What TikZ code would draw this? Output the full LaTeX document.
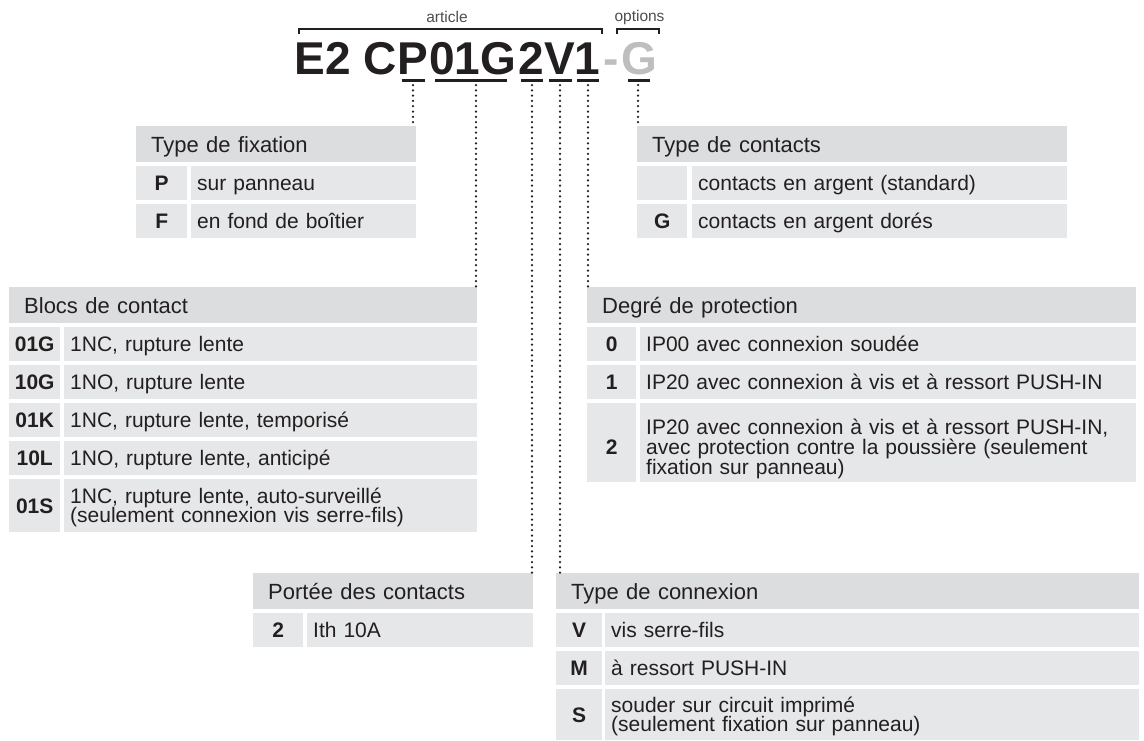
\documentclass[tikz,border=0pt]{standalone}
\usepackage{fontspec}
\setmainfont{Liberation Sans}
\definecolor{hdrc}{HTML}{DCDDDE}
\definecolor{rowc}{HTML}{E6E7E8}
\definecolor{txt}{HTML}{231F20}
\definecolor{optc}{HTML}{BCBEC0}
\definecolor{lblc}{HTML}{4D4D4F}
\newcommand\mybody{\fontsize{21}{19.5}\selectfont\lineskiplimit=-50pt\lineskip=0pt}
\newcommand\mybodyb{\fontsize{21}{20}\selectfont\lineskiplimit=-50pt\lineskip=0pt}
\newcommand\myhdr{\fontsize{22}{22}\selectfont}
\newcommand\myttl{\fontsize{46}{46}\selectfont\bfseries}
\newcommand\mylbl{\fontsize{15.5}{16}\selectfont}
\begin{document}
\begin{tikzpicture}[x=1pt,y=-1pt,
  hdr/.style={fill=hdrc, text=txt, font=\myhdr, anchor=north west, inner xsep=15pt, inner ysep=0pt,
    minimum height=36pt, align=left, text height=15.8pt, text depth=0pt},
  codec/.style={fill=rowc, text=txt, font=\mybody\bfseries, anchor=north west, inner sep=0pt,
    align=center, text height=15pt, text depth=0pt},
  descc/.style={fill=rowc, text=txt, font=\mybody, anchor=north west, inner xsep=6pt, inner ysep=0pt,
    align=left, text height=15pt, text depth=0pt},
  ttl/.style={font=\myttl, text=txt, anchor=base, inner sep=0pt},
  lbl/.style={font=\mylbl, text=lblc, inner sep=0pt},
  brk/.style={draw=txt, line width=1.2pt},
  usc/.style={draw=txt, line width=3pt},
  dotc/.style={draw=txt, line width=2.5pt, line cap=round, dash pattern=on 0pt off 5.3pt}
]
\useasboundingbox (0,0) rectangle (1144,740);

% ---- title ----
\node[ttl] (tP) at (413,74.5) {P};
\node[ttl, anchor=base east] (tE2C) at (tP.base west) {E2 C};
\node[ttl] (t01G) at (472.5,74.5) {01G};
\node[ttl] (t2) at (531,74.5) {2};
\node[ttl] (tV) at (559.5,74.5) {V};
\node[ttl] (t1) at (587,74.5) {1};
\node[ttl, text=optc] (tdash) at (611,74.5) {-};
\node[ttl, text=optc] (tG) at (639.5,74.5) {G};

% ---- brackets and labels ----
\node[lbl] (lart) at (447,17) {article};
\node[lbl] (lopt) at (639.5,17) {options};
\draw[brk] (299,34) -- (299,29) -- (602,29) -- (602,34);
\draw[brk] (617,34) -- (617,29) -- (659,29) -- (659,34);

% ---- underscores ----
\draw[usc] ([xshift=-11.5pt,yshift=-5.5pt]tP.base) -- ++(23,0);
\draw[usc] ([xshift=-37.5pt,yshift=-5.5pt]t01G.base) -- ++(72,0);
\draw[usc] ([xshift=-10pt,yshift=-5.5pt]t2.base) -- ++(22,0);
\draw[usc] ([xshift=-10.5pt,yshift=-5.5pt]tV.base) -- ++(23,0);
\draw[usc] ([xshift=-10pt,yshift=-5.5pt]t1.base) -- ++(22,0);
\draw[usc] ([xshift=-11.5pt,yshift=-5.5pt]tG.base) -- ++(22,0);

\coordinate (cP) at ([yshift=-10.5pt]tP.base);
\coordinate (c01G) at ([xshift=3.5pt,yshift=-10.5pt]t01G.base);
\coordinate (c2) at ([xshift=1pt,yshift=-10.5pt]t2.base);
\coordinate (cV) at ([xshift=0.5pt,yshift=-10.5pt]tV.base);
\coordinate (c1) at ([xshift=1pt,yshift=-10.5pt]t1.base);
\coordinate (cG) at ([xshift=-1.5pt,yshift=-10.5pt]tG.base);

% ---- Type de fixation ----
\node[hdr, text width=250pt] (fixH) at (136,126) {Type de fixation};
\node[codec, minimum width=51pt, minimum height=34pt] (fixPc) at (136,166) {P};
\node[descc, text width=213pt, minimum height=34pt] (fixPd) at (191,166) {sur panneau};
\node[codec, minimum width=51pt, minimum height=34pt] (fixFc) at (136,204) {F};
\node[descc, text width=213pt, minimum height=34pt] (fixFd) at (191,204) {en fond de boîtier};

% ---- Type de contacts ----
\node[hdr, text width=400pt] (conH) at (637,126) {Type de contacts};
\node[codec, minimum width=50pt, minimum height=34pt] (conSc) at (637,166) {};
\node[descc, text width=363pt, minimum height=34pt] (conSd) at (692,166) {contacts en argent (standard)};
\node[codec, minimum width=50pt, minimum height=34pt] (conGc) at (637,204) {G};
\node[descc, text width=363pt, minimum height=34pt] (conGd) at (692,204) {contacts en argent dorés};

% ---- Blocs de contact ----
\node[hdr, text width=438pt] (bloH) at (9,287) {Blocs de contact};
\node[codec, minimum width=51pt, minimum height=34pt] (bloAc) at (9,327) {01G};
\node[descc, text width=401pt, minimum height=34pt] (bloAd) at (64,327) {1NC, rupture lente};
\node[codec, minimum width=51pt, minimum height=34pt] (bloBc) at (9,365) {10G};
\node[descc, text width=401pt, minimum height=34pt] (bloBd) at (64,365) {1NO, rupture lente};
\node[codec, minimum width=51pt, minimum height=34pt] (bloCc) at (9,403) {01K};
\node[descc, text width=401pt, minimum height=34pt] (bloCd) at (64,403) {1NC, rupture lente, temporisé};
\node[codec, minimum width=51pt, minimum height=34pt] (bloDc) at (9,441) {10L};
\node[descc, text width=401pt, minimum height=34pt] (bloDd) at (64,441) {1NO, rupture lente, anticipé};
\node[codec, minimum width=51pt, minimum height=53pt] (bloEc) at (9,479) {01S};
\node[descc, text width=401pt, minimum height=53pt, text depth=19.5pt] (bloEd) at (64,479)
  {1NC, rupture lente, auto-surveillé\\(seulement connexion vis serre-fils)};

% ---- Degré de protection ----
\node[hdr, text width=519pt] (degH) at (587,287) {Degré de protection};
\node[codec, minimum width=49pt, minimum height=34pt] (degAc) at (587,327) {0};
\node[descc, text width=484pt, minimum height=34pt] (degAd) at (640,327) {IP00 avec connexion soudée};
\node[codec, minimum width=49pt, minimum height=34pt] (degBc) at (587,365) {1};
\node[descc, text width=484pt, minimum height=34pt] (degBd) at (640,365) {IP20 avec connexion à vis et à ressort PUSH-IN};
\node[codec, minimum width=49pt, minimum height=79pt, text height=24pt] (degCc) at (587,403) {2};
\node[descc, font=\mybodyb, text width=484pt, minimum height=79pt, text depth=32pt] (degCd) at (640,403)
  {IP20 avec connexion à vis et à ressort PUSH-IN,\\avec protection contre la poussière (seulement\\fixation sur panneau)};

% ---- Portée des contacts ----
\node[hdr, text width=250pt] (porH) at (253,573) {Portée des contacts};
\node[codec, minimum width=50pt, minimum height=34pt] (porAc) at (253,613) {2};
\node[descc, text width=214pt, minimum height=34pt] (porAd) at (307,613) {Ith 10A};

% ---- Type de connexion ----
\node[hdr, text width=553pt] (cnxH) at (556,573) {Type de connexion};
\node[codec, minimum width=46pt, minimum height=34pt] (cnxVc) at (556,613) {V};
\node[descc, text width=522pt, minimum height=34pt] (cnxVd) at (605,613) {vis serre-fils};
\node[codec, minimum width=46pt, minimum height=34pt] (cnxMc) at (556,651) {M};
\node[descc, text width=522pt, minimum height=34pt] (cnxMd) at (605,651) {à ressort PUSH-IN};
\node[codec, minimum width=46pt, minimum height=51pt] (cnxSc) at (556,689) {S};
\node[descc, text width=522pt, minimum height=51pt, text depth=19.5pt] (cnxSd) at (605,689)
  {souder sur circuit imprimé\\(seulement fixation sur panneau)};

% ---- dotted connectors ----
\draw[dotc] (cP) -- (cP |- fixH.north);
\draw[dotc] (c01G) -- (c01G |- bloH.north);
\draw[dotc] (c2) -- (c2 |- porH.north);
\draw[dotc] (cV) -- (cV |- cnxH.north);
\draw[dotc] (c1) -- (c1 |- degH.north);
\draw[dotc] (cG) -- (cG |- conH.north);
\end{tikzpicture}
\end{document}
